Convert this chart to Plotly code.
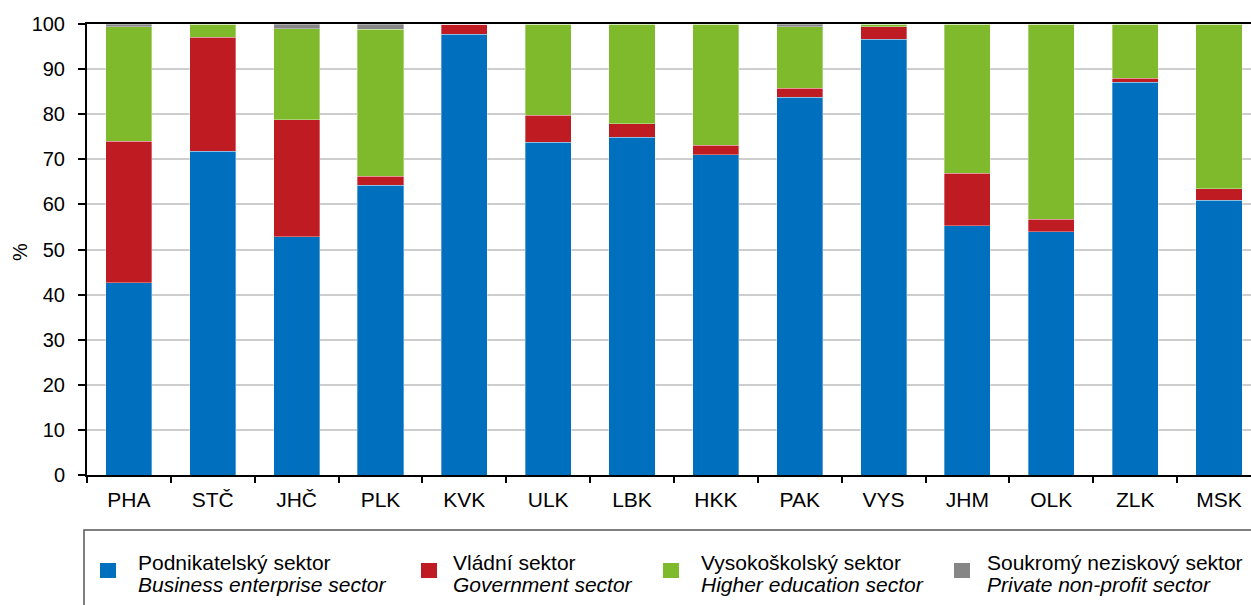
import plotly.graph_objects as go

# Regions (NUTS 3 abbreviations)
regions = ["PHA", "STČ", "JHČ", "PLK", "KVK", "ULK", "LBK",
           "HKK", "PAK", "VYS", "JHM", "OLK", "ZLK", "MSK"]

# Share of each sector of performance, %
business = [42.6, 71.8, 52.8, 64.2, 97.7, 73.8, 74.9, 71.0, 83.8, 96.6, 55.3, 53.9, 87.1, 60.9]
government = [31.4, 25.3, 26.0, 2.0, 2.3, 6.0, 3.0, 2.1, 1.9, 2.8, 11.6, 2.8, 0.9, 2.6]
higher_edu = [25.4, 2.9, 20.2, 32.6, 0.0, 20.2, 22.1, 26.9, 13.7, 0.6, 33.1, 43.3, 12.0, 36.5]
private_np = [0.6, 0.0, 1.0, 1.2, 0.0, 0.0, 0.0, 0.0, 0.6, 0.0, 0.0, 0.0, 0.0, 0.0]

names_cz = ["Podnikatelský sektor", "Vládní sektor",
            "Vysokoškolský sektor", "Soukromý neziskový sektor"]
names_en = ["Business enterprise sector", "Government sector",
            "Higher education sector", "Private non-profit sector"]
colors = ["#0070BE", "#BF1B23", "#7FBA2C", "#868686"]
series = [business, government, higher_edu, private_np]

FONT = "Arial, Liberation Sans, sans-serif"
W, H = 1251, 605
L, T, B = 87, 24, 130
PW, PH = W - L, H - T - B
CAT = 83.85  # pixel width of one category slot


def px_x(x):
    return (x - L) / PW


def px_y(y):
    return (H - B - y) / PH


fig = go.Figure()
for vals, cz, en, col in zip(series, names_cz, names_en, colors):
    fig.add_trace(go.Bar(
        x=regions, y=vals, name=cz, marker_color=col,
        marker_line=dict(color="rgba(255,255,255,0.55)", width=0.6),
        width=0.55, showlegend=False,
    ))

fig.update_layout(
    barmode="stack",
    width=W, height=H,
    margin=dict(l=L, r=0, t=T, b=B, pad=0),
    paper_bgcolor="white", plot_bgcolor="white",
    font=dict(family=FONT, size=20, color="#000000"),
    xaxis=dict(
        type="category",
        range=[-0.5, -0.5 + PW / CAT],
        showline=True, linecolor="#000000", linewidth=2, mirror=True,
        ticks="outside", tickson="boundaries", ticklen=6, tickwidth=1.5,
        tickcolor="#000000", showgrid=False,
        tickfont=dict(family=FONT, size=21),
        ticklabelstandoff=5,
    ),
    yaxis=dict(
        range=[0, 100], dtick=10, tick0=0,
        showline=True, linecolor="#000000", linewidth=2,
        ticks="outside", ticklen=7, tickwidth=1.5, tickcolor="#000000",
        showgrid=True, gridcolor="#CDCDCD", gridwidth=1.5,
        zeroline=False,
        tickfont=dict(family=FONT, size=20),
        ticklabelstandoff=9,
    ),
)

# Axis title
fig.add_annotation(
    xref="paper", yref="paper", x=px_x(20), y=px_y(252),
    text="%", textangle=-90, showarrow=False,
    font=dict(family=FONT, size=20), xanchor="center", yanchor="middle",
)

# Legend frame
fig.add_shape(
    type="rect", xref="paper", yref="paper",
    x0=px_x(84), x1=px_x(W + 40), y0=px_y(530), y1=px_y(H + 40),
    line=dict(color="#555555", width=1.5), fillcolor="rgba(0,0,0,0)",
)

# Legend entries: swatch + two-line label (Czech / English italic)
swatch_x = [100, 421, 663, 954]
text_x = [136, 451, 699, 985]
for sx, tx, cz, en, col in zip(swatch_x, text_x, names_cz, names_en, colors):
    fig.add_shape(
        type="rect", xref="paper", yref="paper",
        x0=px_x(sx), x1=px_x(sx + 16), y0=px_y(578), y1=px_y(563),
        line=dict(width=0), fillcolor=col,
    )
    fig.add_annotation(
        xref="paper", yref="paper", x=px_x(tx), y=px_y(562),
        text=cz, showarrow=False, xanchor="left", yanchor="middle",
        font=dict(family=FONT, size=21),
    )
    fig.add_annotation(
        xref="paper", yref="paper", x=px_x(tx), y=px_y(584),
        text="<i>" + en + "</i>", showarrow=False, xanchor="left", yanchor="middle",
        font=dict(family=FONT, size=21),
    )

fig.write_html("out.html")
